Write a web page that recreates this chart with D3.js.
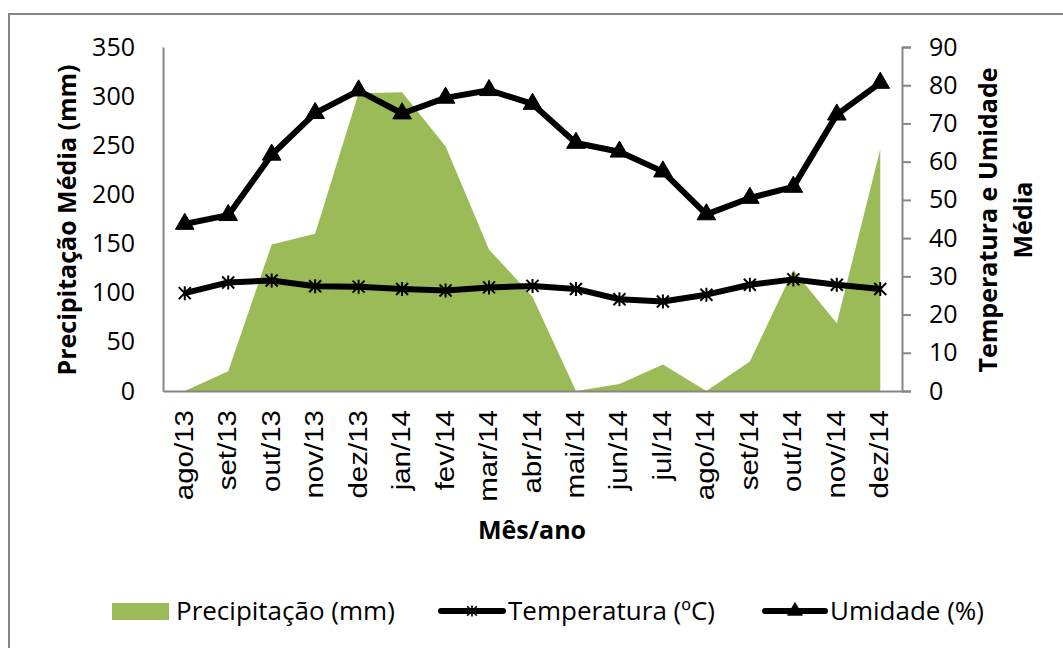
<!DOCTYPE html>
<html>
<head>
<meta charset="utf-8">
<script src="https://cdn.jsdelivr.net/npm/d3@7/dist/d3.min.js"></script>
<style>
  body { margin: 0; background: #fff; }
  svg { display: block; }
</style>
</head>
<body>
<div id="chart"></div>
<script>
// data
var months = ["ago/13","set/13","out/13","nov/13","dez/13","jan/14","fev/14","mar/14","abr/14",
              "mai/14","jun/14","jul/14","ago/14","set/14","out/14","nov/14","dez/14"];
var precipitacao = [0, 20, 149, 160, 303, 304, 249, 144, 96, 0, 7, 27, 0, 30, 123, 69, 246];
var temperatura = [25.6, 28.4, 28.9, 27.4, 27.3, 26.7, 26.3, 27.1, 27.5, 26.7, 24.0, 23.4, 25.2, 27.8, 29.2, 27.8, 26.7];
var umidade = [43.7, 46.0, 61.8, 72.7, 78.6, 72.6, 76.7, 78.7, 75.1, 64.9, 62.6, 57.4, 46.2, 50.5, 53.4, 72.3, 80.6];
var leftTicks = [0, 50, 100, 150, 200, 250, 300, 350];
var rightTicks = [0, 10, 20, 30, 40, 50, 60, 70, 80, 90];

var width = 1063, height = 648;
var margin = { left: 163, top: 47, right: 161, bottom: 257 };
var innerWidth = width - margin.left - margin.right;
var innerHeight = height - margin.top - margin.bottom;

var green = "#9bbb59";
var grey = "#868686";
var titleFont = "'Open Sans', 'Noto Sans', sans-serif";

var svg = d3.select("#chart").append("svg")
  .attr("width", width)
  .attr("height", height);

// outer chart border, right and bottom sides fall outside the picture
svg.append("path")
  .attr("d", "M9," + height + "V14H" + width)
  .attr("fill", "none")
  .attr("stroke", grey)
  .attr("stroke-width", 2);

var g = svg.append("g")
  .attr("transform", "translate(" + margin.left + "," + margin.top + ")");

var x = d3.scaleBand().domain(months).range([0, innerWidth]).padding(0);
var cx = function(m) { return x(m) + x.bandwidth() / 2; };
var yLeft = d3.scaleLinear().domain([0, 350]).range([innerHeight, 0]);
var yRight = d3.scaleLinear().domain([0, 90]).range([innerHeight, 0]);

// precipitation area
var area = d3.area()
  .x(function(d, i) { return cx(months[i]); })
  .y0(innerHeight)
  .y1(function(d) { return yLeft(d); });

g.append("path")
  .datum(precipitacao)
  .attr("fill", green)
  .attr("d", area);

// axes
var xAxis = d3.axisBottom(x).tickSize(0).tickPadding(0);
var xAxisG = g.append("g")
  .attr("class", "x axis")
  .attr("transform", "translate(0," + innerHeight + ")")
  .call(xAxis)
  .attr("font-family", "'Liberation Sans', Arial, sans-serif")
  .attr("font-size", 25);
xAxisG.select(".domain").attr("stroke", grey).attr("stroke-width", 2);
xAxisG.selectAll(".tick text")
  .attr("fill", "#000")
  .attr("text-anchor", "end")
  .attr("dy", null)
  .attr("y", null)
  .attr("transform", "translate(8,19) rotate(-90) scale(1.18,1)");

var yAxisLeft = d3.axisLeft(yLeft).tickValues(leftTicks).tickSize(0).tickPadding(28);
var yAxisLeftG = g.append("g")
  .attr("class", "y axis")
  .call(yAxisLeft)
  .attr("font-family", titleFont)
  .attr("font-size", 25);
yAxisLeftG.select(".domain").attr("stroke", grey).attr("stroke-width", 2);
yAxisLeftG.selectAll(".tick text").attr("fill", "#000");

var yAxisRight = d3.axisRight(yRight).tickValues(rightTicks).tickSizeInner(9).tickSizeOuter(9).tickPadding(18);
var yAxisRightG = g.append("g")
  .attr("class", "y axis")
  .attr("transform", "translate(" + innerWidth + ",0)")
  .call(yAxisRight)
  .attr("font-family", titleFont)
  .attr("font-size", 25);
yAxisRightG.select(".domain").attr("stroke", grey).attr("stroke-width", 2);
yAxisRightG.selectAll(".tick line").attr("stroke", grey).attr("stroke-width", 2);
yAxisRightG.selectAll(".tick text").attr("fill", "#000");

// lines
var lineT = d3.line()
  .x(function(d, i) { return cx(months[i]); })
  .y(function(d) { return yRight(d); });

var starPath = "M-6,-6L6,6M-6,6L6,-6M0,-7L0,7";
var triPath = d3.symbol().type(d3.symbolTriangle).size(150)();

function drawSeries(values, marker, filled) {
  g.append("path")
    .datum(values)
    .attr("fill", "none")
    .attr("stroke", "#000")
    .attr("stroke-width", 6)
    .attr("stroke-linejoin", "round")
    .attr("d", lineT);

  g.selectAll(null)
    .data(values)
    .enter().append("path")
    .attr("transform", function(d, i) { return "translate(" + cx(months[i]) + "," + yRight(d) + ")"; })
    .attr("d", marker)
    .attr("fill", filled ? "#000" : "none")
    .attr("stroke", "#000")
    .attr("stroke-width", filled ? 1 : 2);
}

drawSeries(temperatura, starPath, false);
drawSeries(umidade, triPath, true);

// axis titles
function title(tr, label) {
  svg.append("text")
    .attr("transform", tr)
    .attr("text-anchor", "middle")
    .attr("font-family", titleFont)
    .attr("font-size", 25)
    .attr("font-weight", "bold")
    .text(label);
}
title("translate(76,220) rotate(-90)", "Precipitação Média (mm)");
title("translate(997,220) rotate(-90)", "Temperatura e Umidade");
title("translate(1032,220) rotate(-90)", "Média");
title("translate(532,539)", "Mês/ano");

// legend
var legend = svg.append("g").attr("transform", "translate(0,611)");
var legendText = function(xp, label) {
  legend.append("text")
    .attr("x", xp).attr("y", 9)
    .attr("font-family", titleFont)
    .attr("font-size", 26)
    .text(label);
};

legend.append("rect")
  .attr("x", 112).attr("y", -8)
  .attr("width", 57).attr("height", 17)
  .attr("fill", green);
legendText(176, "Precipitação (mm)");

[[441, 503, starPath, false, "Temperatura (ºC)"], [765, 825, triPath, true, "Umidade (%)"]].forEach(function(it) {
  legend.append("line")
    .attr("x1", it[0]).attr("x2", it[1])
    .attr("stroke", "#000").attr("stroke-width", 6)
    .attr("stroke-linecap", "round");
  legend.append("path")
    .attr("transform", "translate(" + ((it[0] + it[1]) / 2) + ",0) scale(0.8)")
    .attr("d", it[2])
    .attr("fill", it[3] ? "#000" : "none")
    .attr("stroke", "#000")
    .attr("stroke-width", it[3] ? 1 : 2);
  legendText(it[1] + 5, it[4]);
});
</script>
</body>
</html>
